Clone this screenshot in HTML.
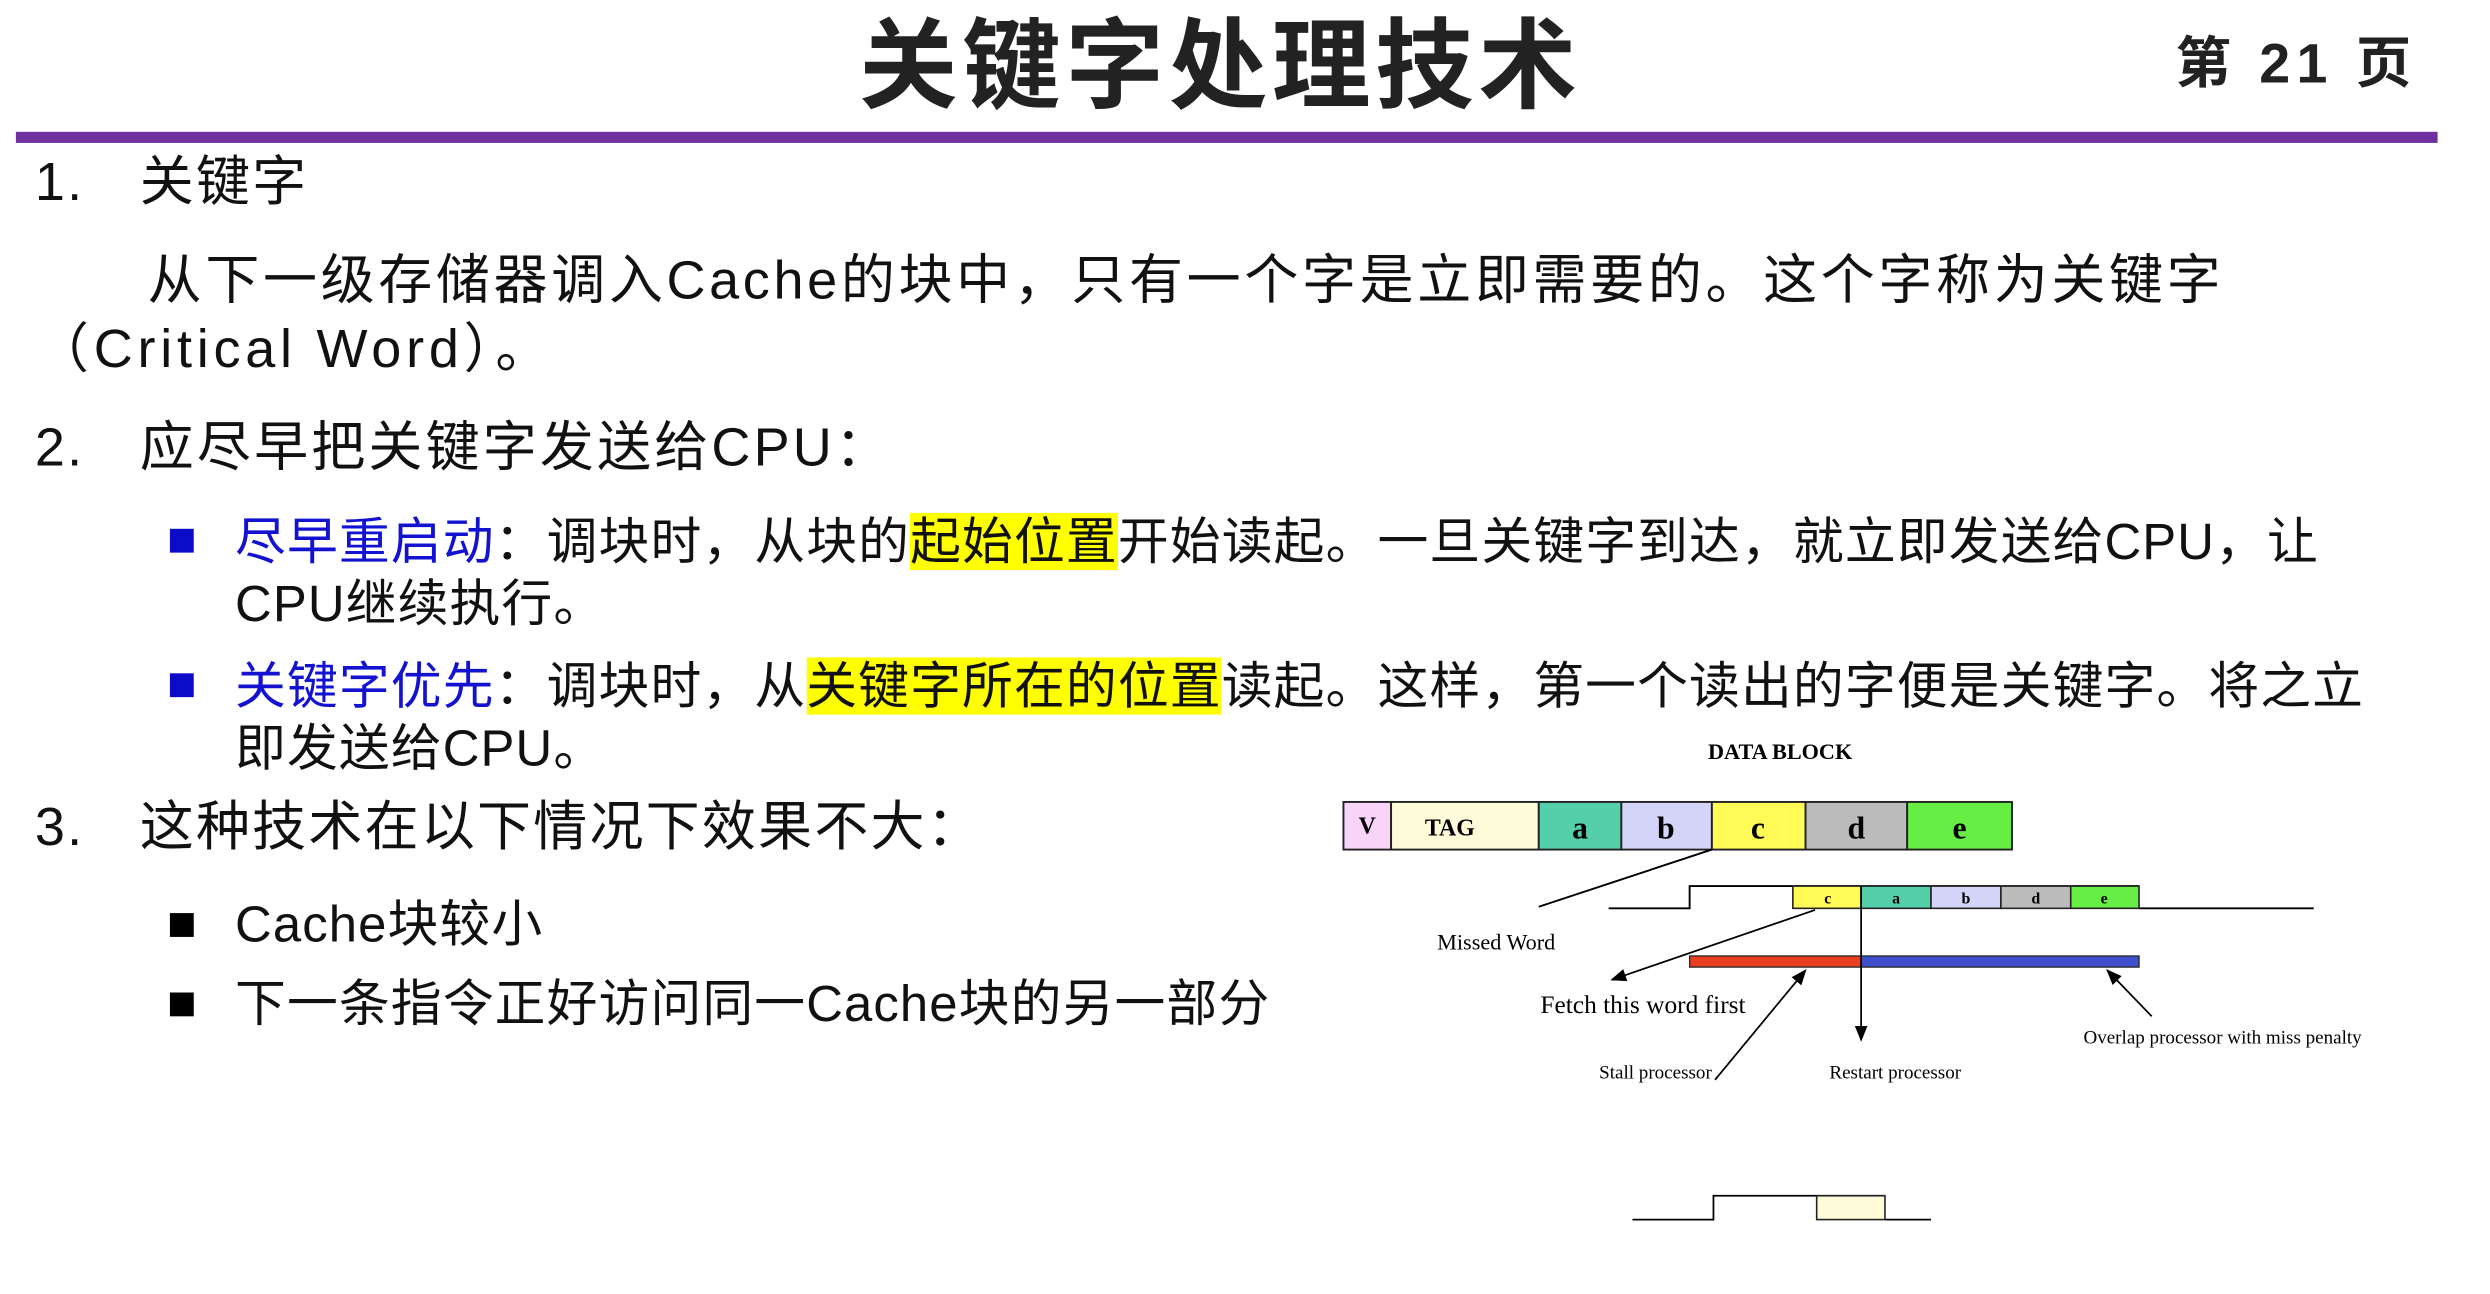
<!DOCTYPE html>
<html><head><meta charset="utf-8">
<style>
html,body{margin:0;padding:0;background:#fff;width:2490px;height:1293px;overflow:hidden}
#s{position:absolute;left:0;top:0;width:1568px;height:815px;transform-origin:0 0;transform:scale(1.588,1.588);font-family:"Liberation Sans","Noto Sans CJK SC",sans-serif;color:#111}
.t{position:absolute;white-space:nowrap;font-size:32px;line-height:32px;letter-spacing:0.7px}
.L{font-size:34px;line-height:34px;letter-spacing:1.4px}
.hl{background:#ffff00}
.bl{color:#1212d0}
.sq{position:absolute;width:15px;height:15px}
</style></head><body><div id="s">
<div class="t" style="left:541px;top:10px;font-size:62px;line-height:66px;font-weight:bold;color:#222;letter-spacing:3px">关键字处理技术</div>
<div class="t" style="left:1370px;top:22px;font-size:35px;line-height:38px;font-weight:bold;color:#222;letter-spacing:4px">第 21 页</div>
<div style="position:absolute;left:10px;top:83px;width:1525px;height:7px;background:#7030a0"></div>

<div class="t L" style="left:22px;top:98px">1.</div>
<div class="t L" style="left:88px;top:98px">关键字</div>
<div class="t L" style="left:93px;top:160px;letter-spacing:2.3px">从下一级存储器调入Cache的块中，只有一个字是立即需要的。这个字称为关键字</div>
<div class="t L" style="left:22px;top:203px;letter-spacing:3px">（Critical Word）。</div>
<div class="t L" style="left:22px;top:265px">2.</div>
<div class="t L" style="left:88px;top:265px;letter-spacing:2px">应尽早把关键字发送给CPU：</div>

<div class="sq" style="left:107px;top:333px;background:#0c0cc8"></div>
<div class="t" style="left:148px;top:325px"><span class="bl">尽早重启动</span>：调块时，从块的<span class="hl">起始位置</span>开始读起。一旦关键字到达，就立即发送给CPU，让</div>
<div class="t" style="left:148px;top:364px">CPU继续执行。</div>
<div class="sq" style="left:107px;top:424px;background:#0c0cc8"></div>
<div class="t" style="left:148px;top:416px"><span class="bl">关键字优先</span>：调块时，从<span class="hl">关键字所在的位置</span>读起。这样，第一个读出的字便是关键字。将之立</div>
<div class="t" style="left:148px;top:455px">即发送给CPU。</div>

<div class="t L" style="left:22px;top:504px">3.</div>
<div class="t L" style="left:88px;top:504px">这种技术在以下情况下效果不大：</div>
<div class="sq" style="left:107px;top:575px;background:#000"></div>
<div class="t" style="left:148px;top:566px">Cache块较小</div>
<div class="sq" style="left:107px;top:625px;background:#000"></div>
<div class="t" style="left:148px;top:616px">下一条指令正好访问同一Cache块的另一部分</div>

<svg style="position:absolute;left:0;top:0" width="1568" height="815" font-family="Liberation Serif,serif">
<defs><marker id="a" markerWidth="10" markerHeight="8" refX="9" refY="4" orient="auto" markerUnits="userSpaceOnUse"><path d="M0,0 L10,4 L0,8z" fill="#000"/></marker></defs>
<text x="1121" y="478" font-size="14" font-weight="bold" text-anchor="middle">DATA BLOCK</text>
<g stroke="#222" stroke-width="1.2">
<rect x="846" y="505" width="30" height="30" fill="#f8d4f8"/>
<rect x="876" y="505" width="93" height="30" fill="#fefcd8"/>
<rect x="969" y="505" width="52" height="30" fill="#55cfaa"/>
<rect x="1021" y="505" width="57" height="30" fill="#d4d4f8"/>
<rect x="1078" y="505" width="59" height="30" fill="#fffa55"/>
<rect x="1137" y="505" width="64" height="30" fill="#bbbbbb"/>
<rect x="1201" y="505" width="66" height="30" fill="#66ee44"/>
</g>
<g font-weight="bold" text-anchor="middle">
<text x="861" y="525" font-size="15">V</text>
<text x="913" y="526" font-size="15">TAG</text>
<text x="995" y="528" font-size="20">a</text>
<text x="1049" y="528" font-size="20">b</text>
<text x="1107" y="528" font-size="20">c</text>
<text x="1169" y="528" font-size="20">d</text>
<text x="1234" y="528" font-size="20">e</text>
</g>
<g stroke="#000" stroke-width="1.2" fill="none">
<line x1="1078" y1="535" x2="969" y2="571"/>
<polyline points="1013,572 1064,572 1064,558 1347,558"/>
<line x1="1347" y1="572" x2="1457" y2="572"/>
</g>
<g stroke="#222" stroke-width="1">
<rect x="1129" y="558" width="43" height="14" fill="#fffa55"/>
<rect x="1172" y="558" width="44" height="14" fill="#55cfaa"/>
<rect x="1216" y="558" width="44" height="14" fill="#d4d4f8"/>
<rect x="1260" y="558" width="44" height="14" fill="#bbbbbb"/>
<rect x="1304" y="558" width="43" height="14" fill="#66ee44"/>
</g>
<g font-size="10" font-weight="bold" text-anchor="middle">
<text x="1151" y="569">c</text><text x="1194" y="569">a</text><text x="1238" y="569">b</text><text x="1282" y="569">d</text><text x="1325" y="569">e</text>
</g>
<rect x="1064" y="602" width="108" height="7" fill="#e84020" stroke="#222" stroke-width="0.8"/>
<rect x="1172" y="602" width="175" height="7" fill="#4050cc" stroke="#222" stroke-width="0.8"/>
<g stroke="#000" stroke-width="1.1" marker-end="url(#a)">
<line x1="1143" y1="573" x2="1015" y2="617"/>
<line x1="1172" y1="558" x2="1172" y2="655"/>
<line x1="1080" y1="680" x2="1137" y2="611"/>
<line x1="1355" y1="640" x2="1327" y2="611"/>
</g>
<text x="905" y="598" font-size="14">Missed Word</text>
<text x="970" y="638" font-size="16">Fetch this word first</text>
<text x="1007" y="679" font-size="12">Stall processor</text>
<text x="1152" y="679" font-size="12">Restart processor</text>
<text x="1312" y="657" font-size="12">Overlap  processor with miss penalty</text>
<polyline points="1028,768 1079,768 1079,753 1187,753" fill="none" stroke="#000" stroke-width="1.1"/>
<line x1="1187" y1="768" x2="1216" y2="768" stroke="#000" stroke-width="1.1"/>
<rect x="1144" y="753" width="43" height="15" fill="#fefcd8" stroke="#222" stroke-width="1"/>
</svg>
</div></body></html>
